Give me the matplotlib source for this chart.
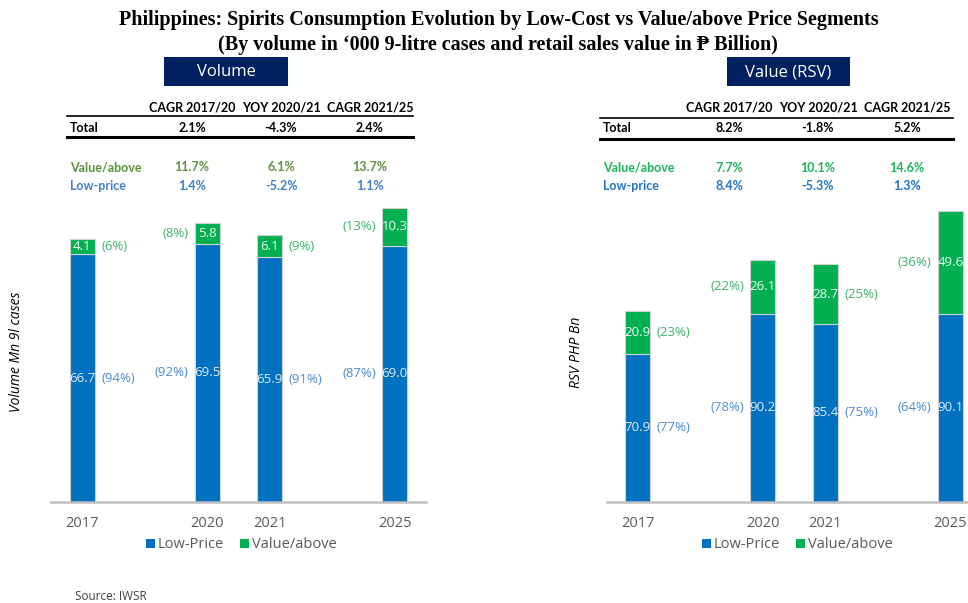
import matplotlib
matplotlib.use("Agg")
import matplotlib.pyplot as plt
from matplotlib.patches import Rectangle

# ---------------- data ----------------
years = ["2017", "2020", "2021", "2025"]
slots = [0, 2, 3, 5]

vol_low = [66.7, 69.5, 65.9, 69.0]
vol_val = [4.1, 5.8, 6.1, 10.3]
vol_low_pct = ["(94%)", "(92%)", "(91%)", "(87%)"]
vol_val_pct = ["(6%)", "(8%)", "(9%)", "(13%)"]
vol_low_side = ["right", "left", "right", "left"]
vol_val_side = ["right", "left", "right", "left"]

rsv_low = [70.9, 90.2, 85.4, 90.1]
rsv_val = [20.9, 26.1, 28.7, 49.6]
rsv_low_pct = ["(77%)", "(78%)", "(75%)", "(64%)"]
rsv_val_pct = ["(23%)", "(22%)", "(25%)", "(36%)"]
rsv_low_side = ["right", "left", "right", "left"]
rsv_val_side = ["right", "left", "right", "left"]

table_cols = ["CAGR 2017/20", "YOY 2020/21", "CAGR 2021/25"]
vol_total = ["2.1%", "-4.3%", "2.4%"]
vol_value_g = ["11.7%", "6.1%", "13.7%"]
vol_low_g = ["1.4%", "-5.2%", "1.1%"]
rsv_total = ["8.2%", "-1.8%", "5.2%"]
rsv_value_g = ["7.7%", "10.1%", "14.6%"]
rsv_low_g = ["8.4%", "-5.3%", "1.3%"]

legend_labels = ["Low-Price", "Value/above"]

# ---------------- style ----------------
BLUE = "#0070C0"
GREEN = "#00B050"
BLUE_TXT = "#4A8BD0"
GREEN_TXT = "#3DB36B"
FONT = ["Open Sans", "DejaVu Sans"]
TFONT = ["Lato", "DejaVu Sans"]
W, H = 968, 603

fig = plt.figure(figsize=(9.68, 6.03), dpi=100)

def fx(px):
    return px / W

def fy(py):
    return 1 - py / H

# title
fig.text(fx(499), fy(20), "Philippines: Spirits Consumption Evolution by Low-Cost vs Value/above Price Segments",
         ha="center", va="center", fontsize=14.5, fontweight="bold", family=["Liberation Serif", "DejaVu Serif"])
fig.text(fx(498), fy(45), "(By volume in \u2018000 9-litre cases and retail sales value in \u20b1 Billion)",
         ha="center", va="center", fontsize=14.5, fontweight="bold", family=["Liberation Serif", "DejaVu Serif"])

# header boxes
def header_box(x0, x1, y0, y1, text):
    fig.patches.append(Rectangle((fx(x0), fy(y1)), fx(x1) - fx(x0), fy(y0) - fy(y1),
                                 transform=fig.transFigure, facecolor="#002060", edgecolor="none"))
    fig.text(fx((x0 + x1) / 2), fy((y0 + y1) / 2 + 1), text, ha="center", va="center",
             color="white", fontsize=12, family=FONT)

header_box(164, 288, 57, 86, "Volume")
header_box(727, 850, 57, 86, "Value (RSV)")

# tables
def table(xl, xr, col_x, y_head, y_line1, y_total, y_line2, y_val, y_low,
          total, valg, lowg, val_color, low_color):
    fs = 9
    for cx, c in zip(col_x, table_cols):
        fig.text(fx(cx), fy(y_head), c, ha="center", va="center", fontsize=fs,
                 fontweight="bold", family=TFONT)
    fig.add_artist(plt.Line2D([fx(xl), fx(xr)], [fy(y_line1), fy(y_line1)], color="black", lw=1.2))
    fig.add_artist(plt.Line2D([fx(xl), fx(xr)], [fy(y_line2), fy(y_line2)], color="black", lw=2.2))
    fig.text(fx(xl + 3), fy(y_total), "Total", ha="left", va="center", fontsize=fs,
             fontweight="bold", family=TFONT)
    fig.text(fx(xl + 3), fy(y_val), "Value/above", ha="left", va="center", fontsize=fs,
             fontweight="bold", family=TFONT, color=val_color)
    fig.text(fx(xl + 3), fy(y_low), "Low-price", ha="left", va="center", fontsize=fs,
             fontweight="bold", family=TFONT, color=low_color)
    for cx, t, v, l in zip(col_x, total, valg, lowg):
        fig.text(fx(cx), fy(y_total), t, ha="center", va="center", fontsize=fs,
                 fontweight="bold", family=TFONT)
        fig.text(fx(cx), fy(y_val), v, ha="center", va="center", fontsize=fs,
                 fontweight="bold", family=TFONT, color=val_color)
        fig.text(fx(cx), fy(y_low), l, ha="center", va="center", fontsize=fs,
                 fontweight="bold", family=TFONT, color=low_color)

table(67, 413, [192, 281, 370], 107, 116, 127.5, 137, 167, 186,
      vol_total, vol_value_g, vol_low_g, "#5E9140", "#3F7FC8")
table(600, 953, [729, 818, 907], 108, 117.5, 128.5, 138.5, 167.5, 186.5,
      rsv_total, rsv_value_g, rsv_low_g, "#1DB35A", "#1F74C4")

# charts
def chart(left_px, ymax, low, val, low_pct, val_pct, low_side, val_side, ylabel, ylabel_x):
    ax = fig.add_axes([fx(left_px), fy(501.7), 375 / W, (501.7 - 200) / H])
    ax.set_xlim(-0.5, 5.5)
    ax.set_ylim(0, ymax)
    bw = 0.4
    ax.bar(slots, low, width=bw, color=BLUE, edgecolor="#D0D0D0", linewidth=0.8,
           label=legend_labels[0], zorder=2)
    ax.bar(slots, val, width=bw, bottom=low, color=GREEN, edgecolor="#D0D0D0", linewidth=0.8,
           label=legend_labels[1], zorder=2)
    for x, lo, va, lp, vp, ls, vs in zip(slots, low, val, low_pct, val_pct, low_side, val_side):
        ax.text(x, lo / 2, f"{lo:.1f}", ha="center", va="center", color="#E3EEF9",
                fontsize=9.5, family=FONT, zorder=3)
        ax.text(x, lo + va / 2, f"{va:.1f}", ha="center", va="center", color="#F0FAF3",
                fontsize=9.5, family=FONT, zorder=3)
        if ls == "right":
            ax.text(x + 0.3, lo / 2, lp, ha="left", va="center", color=BLUE_TXT, fontsize=9.5, family=FONT)
        else:
            ax.text(x - 0.3, lo / 2, lp, ha="right", va="center", color=BLUE_TXT, fontsize=9.5, family=FONT)
        if vs == "right":
            ax.text(x + 0.3, lo + va / 2, vp, ha="left", va="center", color=GREEN_TXT, fontsize=9.5, family=FONT)
        else:
            ax.text(x - 0.3, lo + va / 2, vp, ha="right", va="center", color=GREEN_TXT, fontsize=9.5, family=FONT)
    for s in ["top", "right", "left"]:
        ax.spines[s].set_visible(False)
    ax.spines["bottom"].set_color("#BFBFBF")
    ax.spines["bottom"].set_linewidth(1.8)
    ax.spines["bottom"].set_zorder(4)
    ax.set_yticks([])
    ax.set_xticks(slots)
    ax.set_xticklabels(years, fontsize=10.5, color="#595959", family=FONT)
    ax.tick_params(axis="x", length=0, pad=10)
    ax.patch.set_alpha(0)
    fig.text(fx(ylabel_x), fy(352), ylabel, rotation=90, ha="center", va="center",
             fontsize=10, style="italic", family=FONT)
    return ax

ax1 = chart(51, 81.4, vol_low, vol_val, vol_low_pct, vol_val_pct, vol_low_side, vol_val_side,
            "Volume Mn 9l cases", 17)
ax2 = chart(606.6, 145.0, rsv_low, rsv_val, rsv_low_pct, rsv_val_pct, rsv_low_side, rsv_val_side,
            "RSV PHP Bn", 577)

# legends
def legend(x0, x1):
    items = [(x0, BLUE, legend_labels[0]), (x1, GREEN, legend_labels[1])]
    for x, c, t in items:
        fig.patches.append(Rectangle((fx(x), fy(548)), 9 / W, 9 / H, transform=fig.transFigure,
                                     facecolor=c, edgecolor="none"))
        fig.text(fx(x + 12), fy(544), t, ha="left", va="center", fontsize=10.5,
                 color="#595959", family=FONT)

legend(146, 240)
legend(702, 796)

fig.text(fx(75), fy(597), "Source: IWSR", ha="left", va="center", fontsize=8.5, color="#404040", family=FONT)

fig.savefig("out.png", dpi=100)
